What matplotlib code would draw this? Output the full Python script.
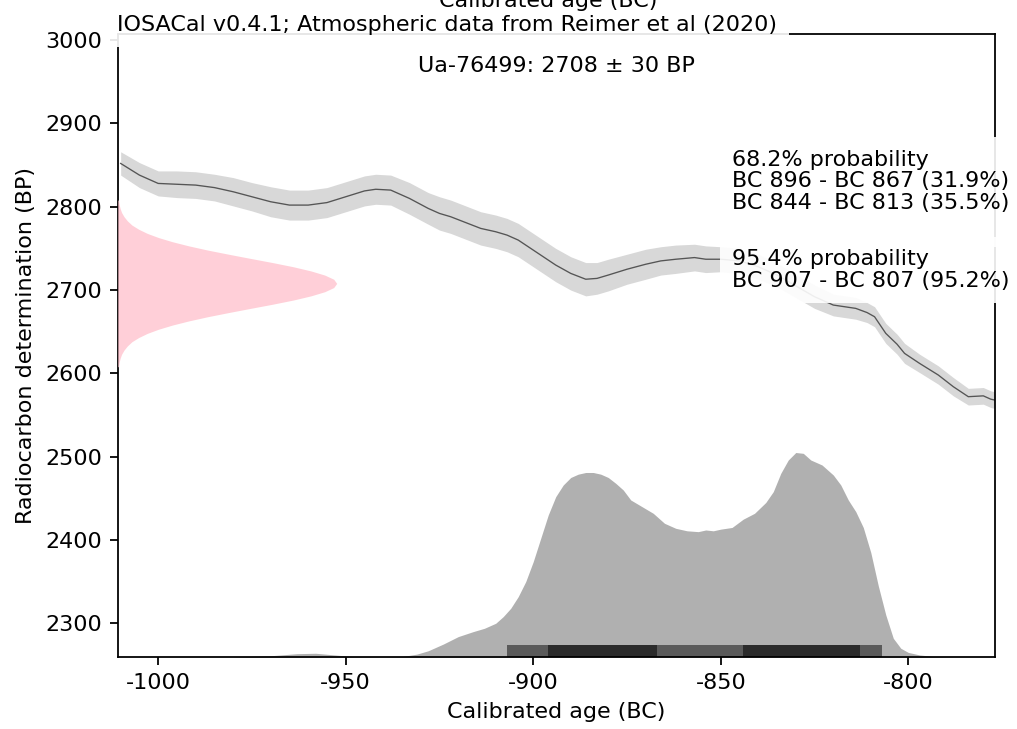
import matplotlib
matplotlib.use('Agg')
import matplotlib.pyplot as plt

plt.rcParams['axes.unicode_minus'] = False
plt.rcParams['font.size'] = 10

# Calibration curve segment (BC years, BP, 1 sigma)
curve_years = [-1010, -1005, -1000, -995, -990, -985, -980, -975, -970, -965,
               -960, -955, -950, -945, -942, -938, -933, -928, -925, -922,
               -918, -914, -910, -907, -904, -901, -898, -894, -890, -886,
               -883, -880, -875, -870, -866, -862, -857, -854, -850, -845,
               -840, -835, -830, -825, -820, -814, -811, -809, -806, -803,
               -801, -797, -792, -788, -784, -780, -778, -777]
curve_bp = [2852, 2838, 2828, 2827, 2826, 2823, 2818, 2812, 2806, 2802,
            2802, 2805, 2812, 2819, 2821, 2820, 2810, 2798, 2792, 2788,
            2781, 2774, 2770, 2766, 2760, 2751, 2742, 2730, 2720, 2713,
            2714, 2718, 2725, 2731, 2735, 2737, 2739, 2737, 2737, 2735,
            2728, 2718, 2705, 2692, 2682, 2678, 2673, 2668, 2648, 2635,
            2624, 2612, 2598, 2584, 2572, 2573, 2569, 2568]
curve_err = [14, 15, 15, 16, 16, 16, 17, 17, 18, 18,
             18, 18, 18, 18, 18, 18, 19, 19, 20, 20,
             20, 20, 20, 20, 20, 20, 20, 20, 20, 20,
             19, 19, 18, 18, 17, 17, 16, 16, 15, 15,
             15, 14, 14, 14, 13, 13, 12, 12, 12, 12,
             12, 11, 11, 11, 10, 10, 10, 10]

# Radiocarbon date Ua-76499 (BP values and width of the pink shape, years)
date_bp = [2608, 2613, 2618, 2623, 2628, 2633, 2638, 2643, 2648, 2653,
           2658, 2663, 2668, 2673, 2678, 2683, 2688, 2693, 2698, 2703,
           2708, 2713, 2718, 2723, 2728, 2733, 2738, 2743, 2748, 2753,
           2758, 2763, 2768, 2773, 2778, 2783, 2788, 2793, 2798, 2803, 2808]
date_width = [0.22, 0.38, 0.65, 1.05, 1.7, 2.6, 3.8, 5.6, 7.9, 10.9,
              14.6, 19.0, 24.0, 29.6, 35.4, 41.3, 46.8, 51.5, 55.2, 57.6,
              58.4, 57.6, 55.2, 51.5, 46.8, 41.3, 35.4, 29.6, 24.0, 19.0,
              14.6, 10.9, 7.9, 5.6, 3.8, 2.6, 1.7, 1.05, 0.65, 0.38, 0.22]

# Calibrated probability (top of grey shape, in BP units)
cal_years = [-980, -970, -963, -958, -953, -948, -940, -935, -931, -928,
             -924, -920, -916, -913, -910, -908, -906, -904, -902, -900,
             -898, -896, -894, -892, -890, -888, -886, -884, -882, -880,
             -878, -876, -874, -871, -868, -865, -862, -859, -856, -854,
             -852, -850, -847, -844, -841, -838, -836, -834, -832, -830,
             -828, -826, -823, -820, -818, -816, -814, -812, -810, -808,
             -806, -804, -802, -800, -797, -793, -788]
cal_top = [2259.5, 2261, 2263.5, 2264, 2262, 2260, 2259.5, 2260, 2263, 2267,
           2275, 2284, 2290, 2294, 2300, 2308, 2318, 2332, 2350, 2374,
           2402, 2430, 2452, 2466, 2475, 2479, 2481, 2481, 2479, 2475,
           2468, 2460, 2448, 2440, 2432, 2420, 2414, 2411, 2410, 2412,
           2411, 2413, 2415, 2425, 2432, 2445, 2458, 2480, 2496, 2505,
           2504, 2496, 2490, 2478, 2466, 2448, 2434, 2415, 2385, 2345,
           2310, 2282, 2270, 2265, 2262, 2260, 2259.3]

range95 = [(-907, -807)]
range68 = [(-896, -867), (-844, -813)]

x_min, x_max = -1010.8, -776.9
y_min, y_max = 2259.2, 3006.8

box = dict(boxstyle='square,pad=0.55', facecolor='white', alpha=0.9, lw=0)

fig = plt.figure(figsize=(1017 / 160, 729 / 160), dpi=160)
ax = fig.add_axes([0.1157, 0.0984, 0.8626, 0.8543])

# calibration curve
ax.fill_between(curve_years,
                [b + e for b, e in zip(curve_bp, curve_err)],
                [b - e for b, e in zip(curve_bp, curve_err)],
                color='#d8d8d8', lw=0)
ax.plot(curve_years, curve_bp, color='#555555', lw=0.6)

# radiocarbon date on the y axis
ax.fill_betweenx(date_bp, x_min, [x_min + w for w in date_width],
                 color='pink', alpha=0.75, lw=0, zorder=3)

# calibrated distribution
ax.fill_between(cal_years, y_min, cal_top, color='#b0b0b0', lw=0)

# ranges
bar_h = 14.8
for a, b in range95:
    ax.broken_barh([(a, b - a)], (y_min, bar_h), facecolors='#5a5a5a', zorder=2)
for a, b in range68:
    ax.broken_barh([(a, b - a)], (y_min, bar_h), facecolors='#2b2b2b', zorder=2)

ax.set_xlim(x_min, x_max)
ax.set_ylim(y_min, y_max)
ax.set_xticks([-1000, -950, -900, -850, -800])
ax.set_yticks([2300, 2400, 2500, 2600, 2700, 2800, 2900, 3000])
ax.set_xlabel('Calibrated age (BC)')
ax.set_ylabel('Radiocarbon determination (BP)')

ax.text(0.5, 0.95, 'Ua-76499: 2708 ± 30 BP', ha='center', va='center',
        transform=ax.transAxes, bbox=box, zorder=6)
ax.text(0.70, 0.815,
        '68.2% probability\nBC 896 - BC 867 (31.9%)\nBC 844 - BC 813 (35.5%)\n',
        ha='left', va='top', linespacing=1.1, transform=ax.transAxes,
        bbox=box, zorder=6)
ax.text(0.70, 0.655, '95.4% probability\nBC 907 - BC 807 (95.2%)',
        ha='left', va='top', linespacing=1.1, transform=ax.transAxes,
        bbox=box, zorder=6)

fig.text(548 / 1017, 1 - 7 / 729, 'Calibrated age (BC)',
         ha='center', va='baseline', zorder=5)
fig.text(117 / 1017, 1 - 31 / 729,
         'IOSACal v0.4.1; Atmospheric data from Reimer et al (2020)',
         ha='left', va='baseline', bbox=box, zorder=4)

plt.savefig('out.png', dpi=160)
plt.close()
